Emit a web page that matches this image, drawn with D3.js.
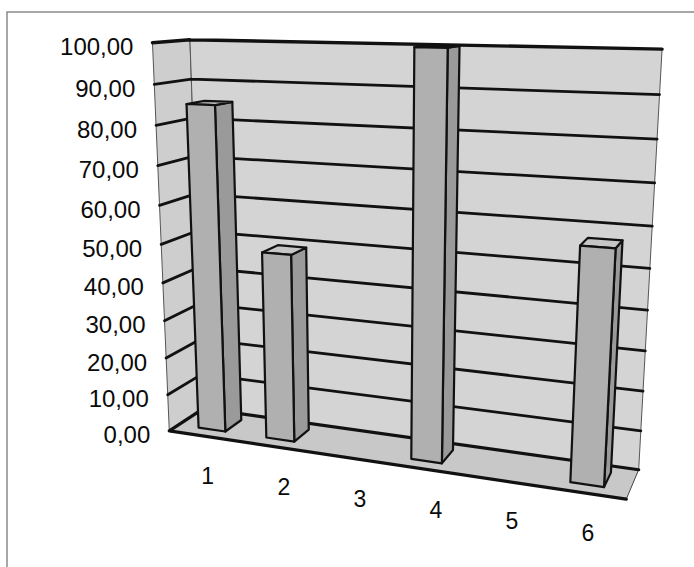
<!DOCTYPE html>
<html>
<head>
<meta charset="utf-8">
<script src="https://cdn.jsdelivr.net/npm/d3@7"></script>
<style>
  html, body { margin: 0; padding: 0; background: #ffffff; }
  svg { display: block; }
</style>
</head>
<body>
<svg id="chart" width="694" height="567"></svg>
<script>
// ---- data -------------------------------------------------------------
const categories  = ["1", "2", "3", "4", "5", "6"];
const values      = [85, 49, 0, 100, 0, 57];
const yTicks      = [0, 10, 20, 30, 40, 50, 60, 70, 80, 90, 100];
const yTickLabels = ["0,00", "10,00", "20,00", "30,00", "40,00", "50,00",
                     "60,00", "70,00", "80,00", "90,00", "100,00"];

// ---- 3D layout --------------------------------------------------------
// World space: x runs along the category axis (one unit per category),
// y is the value axis, z is depth (0 = front of the floor, 1 = back wall).
const xScale = d3.scaleBand().domain(categories).range([0, categories.length])
  .paddingInner(0.6).paddingOuter(0.3);
const yScale = d3.scaleLinear().domain([0, 100]).range([0, 1]);
const depth = 1;
const barDepth = [0.27, 0.77];

// Where the corners of the plot box land on the page; a perspective camera
// is fitted to these so every other point is projected consistently.
const boxAnchors = [
  // [x, value, z, pageX, pageY]
  [0, 100, 0, 151, 43],
  [0,   0, 0, 173, 430],
  [0, 100, 1, 192, 41],
  [0,   0, 1, 202, 412],
  [6, 100, 1, 663, 50],
  [6,   0, 1, 640, 464],
  [6,   0, 0, 625, 502],
  [6,   0, 0, 625, 502],
  [0,  50, 0, 161, 240],
  [0,  50, 1, 194, 231],
  [6,  50, 1, 650, 268]
];

// Fit a 3x4 projection matrix (direct linear transform, least squares).
function fitCamera(anchors) {
  const cx = 350, cy = 280, s = 300;
  const rows = [], rhs = [];
  anchors.forEach(([X, V, Z, px, py]) => {
    const Y = yScale(V);
    const u = (px - cx) / s, v = (py - cy) / s;
    rows.push([X, Y, Z, 1, 0, 0, 0, 0, -u * X, -u * Y, -u * Z]); rhs.push(u);
    rows.push([0, 0, 0, 0, X, Y, Z, 1, -v * X, -v * Y, -v * Z]); rhs.push(v);
  });
  const n = 11;
  const M = Array.from({ length: n }, () => new Array(n + 1).fill(0));
  rows.forEach((r, k) => {
    for (let i = 0; i < n; i++) {
      for (let j = 0; j < n; j++) M[i][j] += r[i] * r[j];
      M[i][n] += r[i] * rhs[k];
    }
  });
  for (let c = 0; c < n; c++) {
    let piv = c;
    for (let r = c + 1; r < n; r++) if (Math.abs(M[r][c]) > Math.abs(M[piv][c])) piv = r;
    [M[c], M[piv]] = [M[piv], M[c]];
    for (let r = 0; r < n; r++) {
      if (r === c) continue;
      const f = M[r][c] / M[c][c];
      for (let j = c; j <= n; j++) M[r][j] -= f * M[c][j];
    }
  }
  const p = M.map((row, i) => row[n] / row[i]);
  return (X, Y, Z) => {
    const w = p[8] * X + p[9] * Y + p[10] * Z + 1;
    const u = (p[0] * X + p[1] * Y + p[2] * Z + p[3]) / w;
    const v = (p[4] * X + p[5] * Y + p[6] * Z + p[7]) / w;
    return [u * s + cx, v * s + cy];
  };
}
const cam = fitCamera(boxAnchors);
// project a point given in (category-axis x, data value, depth z)
const P = (x, val, z) => cam(x, yScale(val), z);

const nCat = categories.length;
const svg = d3.select("#chart");
const poly = pts => "M" + pts.map(p => p.join(",")).join("L") + "Z";
const seg = (a, b) => "M" + a.join(",") + "L" + b.join(",");

// ---- frame around the picture ----------------------------------------
svg.append("path").attr("d", "M7,567L7,12L694,12")
  .attr("fill", "none").attr("stroke", "#8a8a8a").attr("stroke-width", 1.5);

// ---- walls and floor --------------------------------------------------
const vMax = d3.max(yTicks);
const walls = svg.append("g");
walls.append("path") // left side wall
  .attr("d", poly([P(0, vMax, 0), P(0, vMax, depth), P(0, 0, depth), P(0, 0, 0)]))
  .attr("fill", "#cecece").attr("stroke", "#555").attr("stroke-width", 1);
walls.append("path") // back wall
  .attr("d", poly([P(0, vMax, depth), P(nCat, vMax, depth), P(nCat, 0, depth), P(0, 0, depth)]))
  .attr("fill", "#d4d4d4").attr("stroke", "#555").attr("stroke-width", 1);
walls.append("path") // floor
  .attr("d", poly([P(0, 0, 0), P(0, 0, depth), P(nCat, 0, depth), P(nCat, 0, 0)]))
  .attr("fill", "#c8c8c8").attr("stroke", "#444").attr("stroke-width", 1);

// gridlines on both walls
const grid = svg.append("g").attr("fill", "none").attr("stroke", "#111")
  .attr("stroke-linecap", "round");
grid.selectAll("path.g").data(yTicks.filter(v => v > 0 && v < vMax)).join("path")
  .attr("class", "g")
  .attr("d", v => seg(P(0, v, 0), P(0, v, depth)) + seg(P(0, v, depth), P(nCat, v, depth)))
  .attr("stroke-width", 2.8);
// heavy box edges
grid.append("path")
  .attr("d", seg(P(0, vMax, 0), P(0, vMax, depth)) + seg(P(0, vMax, depth), P(nCat, vMax, depth)))
  .attr("stroke-width", 3.4);
grid.append("path")
  .attr("d", seg(P(0, 0, 0), P(0, 0, depth)) + seg(P(0, 0, depth), P(nCat, 0, depth)) +
             seg(P(0, 0, 0), P(nCat, 0, 0)))
  .attr("stroke-width", 3.2);

// ---- columns ----------------------------------------------------------
const bars = svg.append("g").attr("stroke", "#111").attr("stroke-width", 2.2)
  .attr("stroke-linejoin", "round");
categories.forEach((c, i) => {
  const v = values[i];
  if (!(v > 0)) return;
  const x0 = xScale(c), x1 = x0 + xScale.bandwidth();
  const [z0, z1] = barDepth;
  const g = bars.append("g");
  g.append("path") // right side
    .attr("d", poly([P(x1, 0, z0), P(x1, v, z0), P(x1, v, z1), P(x1, 0, z1)]))
    .attr("fill", "#9a9a9a");
  g.append("path") // top
    .attr("d", poly([P(x0, v, z0), P(x1, v, z0), P(x1, v, z1), P(x0, v, z1)]))
    .attr("fill", "#c6c6c6");
  g.append("path") // front
    .attr("d", poly([P(x0, 0, z0), P(x1, 0, z0), P(x1, v, z0), P(x0, v, z0)]))
    .attr("fill", "#b0b0b0");
});

// ---- axis labels ------------------------------------------------------
const font = "'Liberation Sans', Arial, sans-serif";
svg.append("g").selectAll("text").data(yTicks).join("text")
  .attr("x", v => P(0, v, 0)[0] - 19)
  .attr("y", v => P(0, v, 0)[1] + 4)
  .attr("text-anchor", "end").attr("dominant-baseline", "central")
  .attr("font-family", font).attr("font-size", 24).attr("fill", "#0a0a0a")
  .text((v, i) => yTickLabels[i]);

// category labels sit on an evenly spaced line below the front floor edge
const first = categories[0], last = categories[nCat - 1];
const mid = c => xScale(c) + xScale.bandwidth() / 2;
const pFirst = P(mid(first), 0, 0), pLast = P(mid(last), 0, 0);
const labelX = d3.scalePoint().domain(categories).range([pFirst[0] + 5, pLast[0] + 5]);
const labelY = d3.scalePoint().domain(categories).range([pFirst[1] + 40, pLast[1] + 40]);
svg.append("g").selectAll("text").data(categories).join("text")
  .attr("x", c => labelX(c))
  .attr("y", c => labelY(c))
  .attr("text-anchor", "middle").attr("dominant-baseline", "central")
  .attr("font-family", font).attr("font-size", 23).attr("fill", "#0a0a0a")
  .text(c => c);
</script>
</body>
</html>
